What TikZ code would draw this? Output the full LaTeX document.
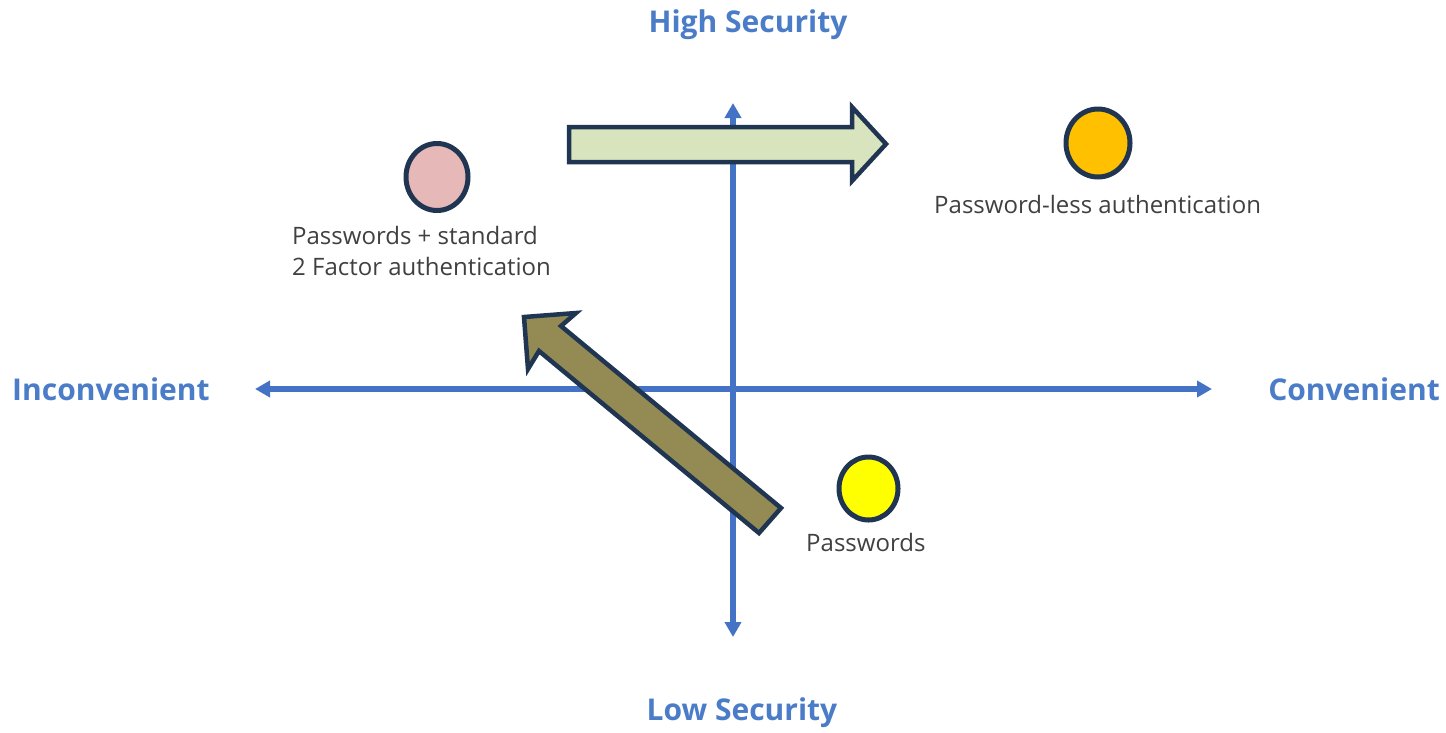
\documentclass[tikz,border=0pt]{standalone}
\usepackage{fontspec}
\setmainfont{Open Sans}
\usetikzlibrary{arrows.meta,shapes.geometric}
\definecolor{axisblue}{HTML}{4472C4}
\definecolor{labelblue}{HTML}{4A7CC8}
\definecolor{txtgray}{HTML}{404040}
\definecolor{navy}{HTML}{1F3552}
\definecolor{pinkfill}{HTML}{E6B9B8}
\definecolor{orangefill}{HTML}{FFC000}
\definecolor{yellowfill}{HTML}{FFFF00}
\definecolor{greenfill}{HTML}{D8E4BD}
\definecolor{olivefill}{HTML}{948A54}
\tikzset{
  axisline/.style={draw=axisblue, line width=5.5pt, -{Triangle[length=15pt,width=16pt]}},
  axislabel/.style={text=labelblue, font=\fontsize{30}{34}\selectfont\bfseries, inner sep=0pt},
  desc/.style={text=txtgray, font=\fontsize{24}{31}\selectfont, inner sep=0pt, align=left},
  dot/.style={ellipse, draw=navy, line width=5pt, inner sep=0pt},
  fatarrow/.style={draw=navy, line width=4.5pt, line join=miter},
}
\begin{document}
\begin{tikzpicture}[x=1pt,y=-1pt]
\useasboundingbox (0,0) rectangle (1446,732);
% axes
\coordinate (origin) at (733,389);
\coordinate (ytop) at (733,103);
\coordinate (ybot) at (733,637);
\coordinate (xleft) at (255,389);
\coordinate (xright) at (1212,389);
\draw[axisline] (origin) -- (ytop);
\draw[axisline] (origin) -- (ybot);
\draw[axisline] (origin) -- (xleft);
\draw[axisline] (origin) -- (xright);
% axis labels
\node[axislabel] (high) at (748,25) {High Security};
\node[axislabel] (low) at (742,713) {Low Security};
\node[axislabel, anchor=west] (inconv) at (12,389) {Inconvenient};
\node[axislabel, anchor=east] (conv) at (1440,389) {Convenient};
% green arrow
\draw[fatarrow, fill=greenfill] (569,127) -- (852,127) -- (852,107) -- (886,144) -- (852,181) -- (852,162) -- (569,162) -- cycle;
% olive arrow
\draw[fatarrow, fill=olivefill] (524,317) -- (576,313) -- (561,326) -- (781,508) -- (759,533) -- (539,351) -- (528,369) -- cycle;
% dots
\node[dot, fill=pinkfill, minimum width=62pt, minimum height=67pt] (pink) at (437,177) {};
\node[dot, fill=orangefill, minimum width=64pt, minimum height=68pt] (orange) at (1098,143) {};
\node[dot, fill=yellowfill, minimum width=59pt, minimum height=63pt] (yellow) at (868.5,488.5) {};
% descriptions
\node[desc, anchor=west] (pinktxt) at (292,250.5) {Passwords + standard\\2 Factor authentication};
\node[desc, anchor=west] (orangetxt) at (934,204) {Password-less authentication};
\node[desc, anchor=west] (yellowtxt) at (806,542) {Passwords};
\end{tikzpicture}
\end{document}
